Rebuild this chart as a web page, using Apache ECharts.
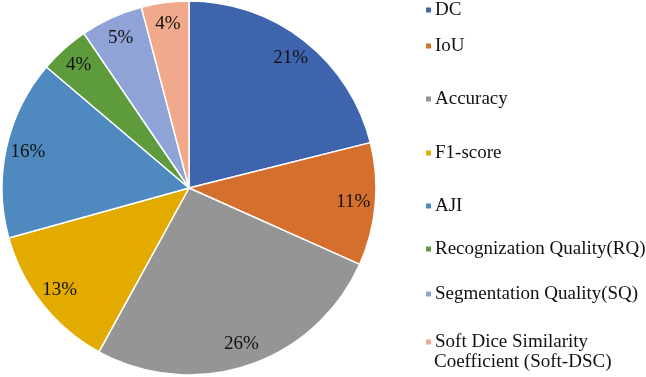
<!DOCTYPE html>
<html><head><meta charset="utf-8">
<script src="https://cdn.jsdelivr.net/npm/echarts@6/dist/echarts.min.js"></script>
<style>html,body{margin:0;padding:0;background:#fff}#c{width:646px;height:377px}</style>
</head><body><div id="c"></div>
<script>
var categories = ['DC','IoU','Accuracy','F1-score','AJI','Recognization Quality(RQ)','Segmentation Quality(SQ)','Soft Dice Similarity Coefficient (Soft-DSC)'];
var legendLines = ['DC','IoU','Accuracy','F1-score','AJI','Recognization Quality(RQ)','Segmentation Quality(SQ)','Soft Dice Similarity'];
var secondLine = 'Coefficient (Soft-DSC)';
var values = [21.1, 10.6, 26.3, 12.7, 15.5, 4.3, 5.4, 4.1];
var colors = ['#3E64AD','#D56F2D','#959595','#E3AB00','#4E89BF','#5E9B3D','#8FA3D6','#F0A98B'];
var legendTops = [10, 46, 99, 153, 206, 249, 294, 342];

var data = categories.map(function(n,i){return {name:n, value:values[i], itemStyle:{color:colors[i]}};});
var font = 'Liberation Serif';
var legends = categories.map(function(n,i){
  return {data:[n], left:424, top:legendTops[i]-10, orient:'vertical', itemWidth:7, itemHeight:7, icon:'rect',
    itemGap:0, padding:0, selectedMode:false,
    formatter:function(){return legendLines[i];},
    textStyle:{fontFamily:font, fontSize:19, color:'#111', lineHeight:20, padding:[0,0,0,-2]}};
});
var chart = echarts.init(document.getElementById('c'));
chart.setOption({
  animation:false,
  legend: legends,
  graphic:[{type:'text', left:434, top:legendTops[7]+11, silent:true,
    style:{text:secondLine, font:'19px "Liberation Serif"', fill:'#111'}}],
  series:[
    {type:'pie', center:[189,188], radius:[0,187], startAngle:90, clockwise:true,
     data:data, label:{show:false}, labelLine:{show:false},
     itemStyle:{borderColor:'#fff', borderWidth:1.5}, emphasis:{disabled:true}},
    {type:'pie', center:[189,188], radius:[137,187], startAngle:90, clockwise:true, silent:true,
     data:data.map(function(d){return {name:d.name, value:d.value, itemStyle:{color:'rgba(0,0,0,0)'}};}),
     label:{show:true, position:'inside', fontFamily:font, fontSize:19, color:'#111',
       formatter:function(p){return Math.round(p.value)+'%';}},
     labelLine:{show:false}, itemStyle:{borderWidth:0}, emphasis:{disabled:true}}
  ]
});
</script></body></html>
